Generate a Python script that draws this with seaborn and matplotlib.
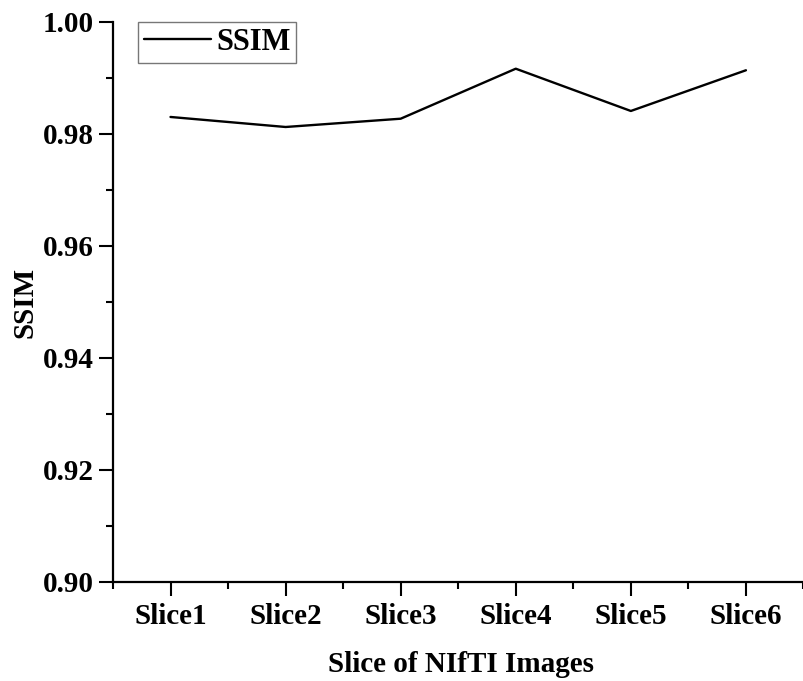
import matplotlib
matplotlib.use("Agg")
import matplotlib.pyplot as plt
import seaborn as sns
import pandas as pd
from matplotlib.ticker import MultipleLocator, FixedLocator

# data
slices = ["Slice1", "Slice2", "Slice3", "Slice4", "Slice5", "Slice6"]
ssim = [0.98304, 0.98125, 0.98273, 0.99166, 0.98411, 0.99138]

df = pd.DataFrame({"slice": slices, "SSIM": ssim})

sns.set_style("ticks")
plt.rcParams['font.family'] = ['Liberation Serif', 'DejaVu Serif']
plt.rcParams['font.weight'] = 'bold'
plt.rcParams['text.color'] = 'black'
plt.rcParams['axes.labelcolor'] = 'black'
plt.rcParams['xtick.color'] = 'black'
plt.rcParams['ytick.color'] = 'black'

fig = plt.figure(figsize=(8.04, 6.81), dpi=100)
ax = fig.add_axes([0.1405, 0.1454, 0.866, 0.8223])

sns.lineplot(data=df, x="slice", y="SSIM", ax=ax, color="black",
             linewidth=1.7, sort=False, label="SSIM")

ax.set_xlim(-0.5, 5.55)
ax.set_ylim(0.90, 1.00)
ax.yaxis.set_major_locator(MultipleLocator(0.02))
ax.yaxis.set_minor_locator(MultipleLocator(0.01))
ax.xaxis.set_minor_locator(FixedLocator([-0.5, 0.5, 1.5, 2.5, 3.5, 4.5, 5.5]))
ax.yaxis.set_major_formatter(matplotlib.ticker.FormatStrFormatter("%.2f"))

ax.tick_params(axis="both", which="major", direction="out", length=10, width=1.5,
               labelsize=21, pad=5, colors="black")
ax.tick_params(axis="y", which="major", pad=4)
ax.tick_params(axis="both", which="minor", direction="out", length=5, width=1.5)
for lab in ax.get_xticklabels() + ax.get_yticklabels():
    lab.set_fontweight("bold")

sns.despine(ax=ax)
for s in ["left", "bottom"]:
    ax.spines[s].set_linewidth(1.6)
    ax.spines[s].set_color("black")

ax.set_xlabel("Slice of NIfTI Images", fontsize=21, fontweight="bold", labelpad=15)
ax.set_ylabel("SSIM", fontsize=21, fontweight="bold", labelpad=3)

leg = ax.legend(loc="upper left", bbox_to_anchor=(0.036, 1.0), fontsize=22,
                frameon=True, fancybox=False, handlelength=2.2, borderpad=0.2,
                handletextpad=0.15, borderaxespad=0.0)
leg.get_frame().set_edgecolor("#555555")
leg.get_frame().set_linewidth(1.0)
for t in leg.get_texts():
    t.set_fontweight("bold")

fig.savefig("out.png", dpi=100)
